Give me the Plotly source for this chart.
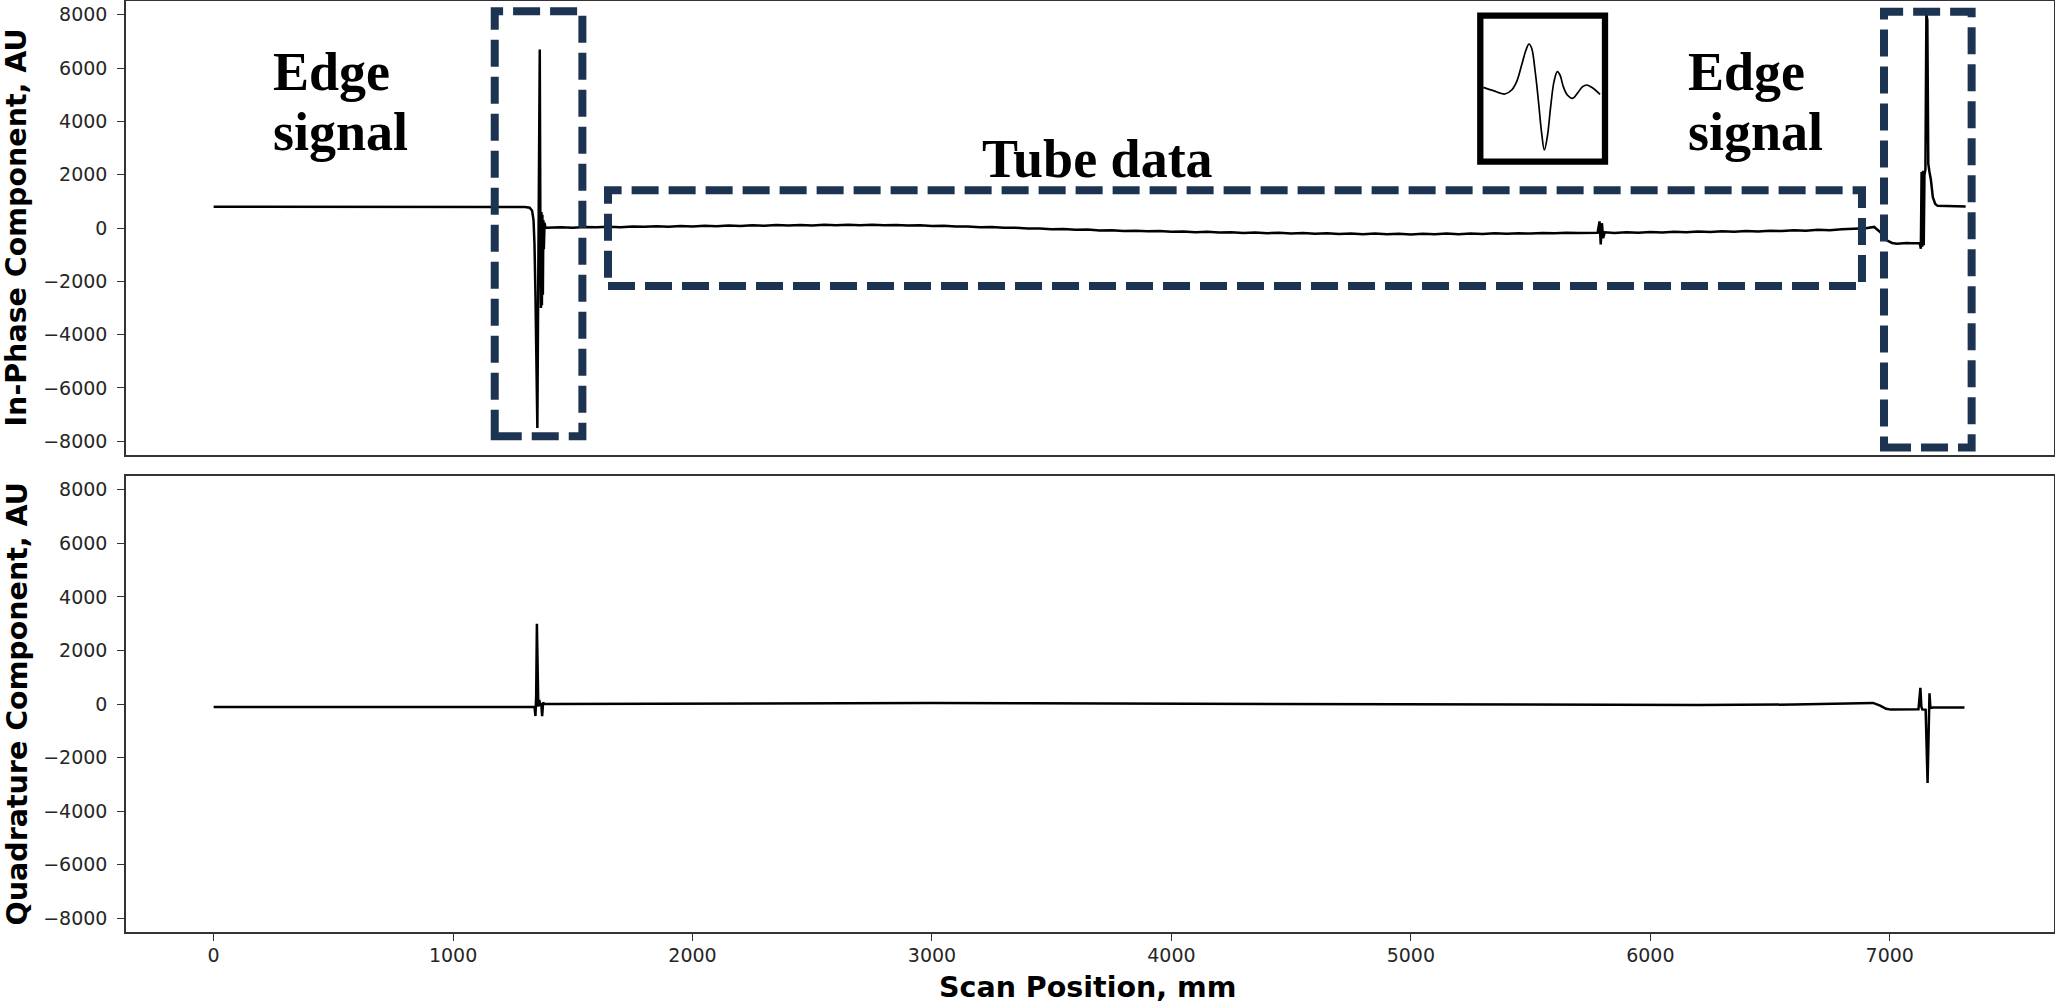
import plotly.graph_objects as go

# ---------------- data ----------------
# In-phase component: scan position (mm) and value (AU)
ip_pos = [0, 300, 600, 900, 1200, 1300, 1320, 1330, 1336, 1340, 1344, 1348, 1352,
          1355, 1358, 1362, 1365, 1367, 1369, 1371, 1373, 1375, 1377, 1379, 1382, 1386, 1390,
          1450, 1500, 1550, 1600, 1650, 1700, 1750, 1800, 1850, 1900, 1950, 2000,
          2050, 2100, 2150, 2200, 2250, 2300, 2350, 2400, 2450, 2500, 2550, 2600,
          2650, 2700, 2750, 2800, 2850, 2900, 2950, 3000, 3050, 3100, 3150, 3200,
          3250, 3300, 3350, 3400, 3450, 3500, 3550, 3600, 3650, 3700, 3750, 3800,
          3850, 3900, 3950, 4000, 4050, 4100, 4150, 4200, 4250, 4300, 4350, 4400,
          4450, 4500, 4550, 4600, 4650, 4700, 4750, 4800, 4850, 4900, 4950, 5000,
          5050, 5100, 5150, 5200, 5250, 5300, 5350, 5400, 5450, 5500, 5550, 5600,
          5650, 5700, 5750, 5780, 5788, 5793, 5798, 5803, 5810, 5850, 5900, 5950,
          6000, 6050, 6100, 6150, 6200, 6250, 6300, 6350, 6400, 6450, 6500, 6550,
          6600, 6650, 6700, 6750, 6800, 6850, 6900, 6935, 6960, 6985, 7010, 7030,
          7050, 7070, 7090, 7110, 7125, 7130, 7133, 7136, 7139, 7142, 7145, 7149,
          7153, 7157, 7161, 7166, 7172, 7180, 7190, 7200, 7250, 7317]
ip_val = [800, 800, 795, 795, 790, 785, 760, 650, 300, -600, -2500, -5000, -7500,
          -3000, 2000, 6700, -1000, -3000, 600, -2900, 500, -2500, 300, -800, 200, 0, 10,
          30, 5, 40, 25, 50, 30, 60, 45, 70, 50, 75, 60,
          85, 65, 95, 75, 100, 85, 110, 90, 115, 95, 120, 100,
          125, 105, 120, 100, 115, 90, 100, 75, 85, 55, 60, 30,
          35, 5, 10, -20, -15, -45, -40, -70, -60, -90, -85, -110,
          -100, -125, -115, -140, -130, -155, -145, -170, -160, -185, -170, -195,
          -180, -205, -190, -215, -200, -225, -205, -230, -210, -235, -215, -240,
          -215, -235, -210, -230, -205, -225, -200, -220, -195, -210, -185, -200,
          -175, -190, -170, -180, 250, -620, 180, -380, -160, -185, -160, -180,
          -150, -170, -140, -160, -130, -150, -120, -140, -110, -130, -100, -115,
          -85, -100, -70, -80, -50, -40, -10, 40, -150, -450, -560, -590,
          -570, -560, -575, -560, -570, -780, 2100, -700, 2150, -650, 2000, 2200,
          8000, 7800, 2400, 2100, 1800, 1150, 900, 830, 810, 810]

# Quadrature component
quad_pos = [0, 400, 800, 1200, 1340, 1344, 1347, 1350, 1353, 1356, 1360, 1364, 1368,
            1372, 1376, 1380, 1400, 1800, 2200, 2600, 3000, 3400, 3800, 4200, 4600,
            5000, 5400, 5800, 6200, 6600, 6800, 6930, 6960, 6985, 7005, 7060, 7120,
            7128, 7132, 7136, 7150, 7158, 7162, 7166, 7170, 7180, 7250, 7312]
quad_val = [-110, -110, -110, -110, -110, -450, 300, 3000, 500, -100, 150, -60, 30,
            -450, 60, 0, 0, 10, 30, 40, 40, 30, 20, 10, 0,
            -20, -30, -40, -40, -20, 10, 40, -60, -180, -210, -200, -200,
            600, -100, -200, -220, -2950, -250, 400, -150, -130, -130, -130]

# Inset wavelet (relative position, relative amplitude)
inset_t = [70, 100, 135, 155, 170, 185, 198, 207, 215, 225, 235, 245, 253, 262, 272,
           282, 292, 300, 310, 322, 338, 352, 368, 380, 395, 420]
inset_amp = [38, 28, 18, 30, 55, 105, 150, 168, 155, 90, 0, -100, -150, -110, -20,
             55, 85, 75, 40, 15, 5, 20, 40, 45, 38, 17]

y_ticks = [-8000, -6000, -4000, -2000, 0, 2000, 4000, 6000, 8000]
x_ticks = [0, 1000, 2000, 3000, 4000, 5000, 6000, 7000]

y_title_top = "In-Phase Component, AU"
y_title_bottom = "Quadrature Component, AU"
x_title = "Scan Position, mm"

# ---------------- figure ----------------
W, H = 2055, 1004
ML, MR, MT, MB = 126, 1, 1, 72
PW, PH = W - ML - MR, H - MT - MB


def px_x(p):
    return (p - ML) / PW


def px_y(p):
    return (H - MB - p) / PH


top_dom = [px_y(455), 1.0]
bot_dom = [0.0, px_y(476)]

fig = go.Figure()
fig.add_trace(go.Scatter(x=ip_pos, y=ip_val, mode="lines", xaxis="x", yaxis="y",
                         line=dict(color="black", width=2.5), showlegend=False))
fig.add_trace(go.Scatter(x=quad_pos, y=quad_val, mode="lines", xaxis="x2", yaxis="y2",
                         line=dict(color="black", width=2.5), showlegend=False))
fig.add_trace(go.Scatter(x=inset_t, y=inset_amp, mode="lines", xaxis="x3", yaxis="y3",
                         line=dict(color="black", width=1.7, shape="spline"),
                         showlegend=False))

tickfont = dict(family="DejaVu Sans", size=19, color="#262626")
axline = dict(showline=True, mirror=True, linecolor="#333333", linewidth=1.5,
              showgrid=False, zeroline=False, automargin=False)
xr = [-366, 7686]
yr = [-8515, 8515]

fig.update_layout(
    width=W, height=H,
    margin=dict(l=ML, r=MR, t=MT, b=MB, autoexpand=False),
    paper_bgcolor="white", plot_bgcolor="white",
    xaxis=dict(domain=[0, 1], anchor="y", range=xr, showticklabels=False,
               ticks="", **axline),
    yaxis=dict(domain=top_dom, anchor="x", range=yr, tickvals=y_ticks,
               ticks="outside", ticklen=7, tickwidth=1.3, tickcolor="#333333",
               tickfont=tickfont, ticklabelstandoff=6, **axline),
    xaxis2=dict(domain=[0, 1], anchor="y2", range=xr, tickvals=x_ticks,
                ticks="outside", ticklen=7, tickwidth=1.3, tickcolor="#333333",
                tickfont=tickfont, ticklabelstandoff=-2, **axline),
    yaxis2=dict(domain=bot_dom, anchor="x2", range=yr, tickvals=y_ticks,
                ticks="outside", ticklen=7, tickwidth=1.3, tickcolor="#333333",
                tickfont=tickfont, ticklabelstandoff=6, **axline),
    xaxis3=dict(domain=[px_x(1483), px_x(1602)], anchor="y3", range=[69, 426],
                visible=False, automargin=False),
    yaxis3=dict(domain=[px_y(158), px_y(19)], anchor="x3", range=[-174, 243],
                visible=False, automargin=False),
)

titlefont = dict(family="DejaVu Sans", size=28.5, color="black", weight="bold")
fig.add_annotation(text=y_title_top, xref="paper", yref="paper", x=0, xshift=16.5 - ML,
                   y=sum(top_dom) / 2, textangle=-90, showarrow=False,
                   xanchor="center", yanchor="middle", font=titlefont)
fig.add_annotation(text=y_title_bottom, xref="paper", yref="paper", x=0, xshift=16.5 - ML,
                   y=sum(bot_dom) / 2, textangle=-90, showarrow=False,
                   xanchor="center", yanchor="middle", font=titlefont)
fig.add_annotation(text=x_title, xref="paper", yref="paper", x=0.4987, y=0,
                   yshift=-(987 - (H - MB)), showarrow=False,
                   xanchor="center", yanchor="middle", font=titlefont)

# region labels (Times-like bold serif)
serif = dict(family="Liberation Serif", size=54, color="black", weight="bold")
for txt, xp, base in [("Edge", 272, 90), ("signal", 272, 150),
                      ("Edge", 1687, 90), ("signal", 1687, 150),
                      ("Tube data", 981, 177.7)]:
    fig.add_annotation(text=txt, xref="paper", yref="paper", x=px_x(xp),
                       y=px_y(base - 0.3375 * 54), showarrow=False,
                       xanchor="left", yanchor="middle", borderpad=0, font=serif)

# dashed highlight boxes (data coordinates of the top panel)
navy = "#1c3352"
for x0, x1, y0, y1 in [(1174, 1540, -7810, 8135),
                       (6976, 7342, -8235, 8115),
                       (1647, 6884, -2175, 1414)]:
    fig.add_shape(type="rect", xref="x", yref="y", x0=x0, x1=x1, y0=y0, y1=y1,
                  line=dict(color=navy, width=8, dash="27px,10px"),
                  fillcolor="rgba(0,0,0,0)")

# inset frame
fig.add_shape(type="rect", xref="paper", yref="paper",
              x0=px_x(1480.3), x1=px_x(1605), y0=px_y(161.7), y1=px_y(15.7),
              line=dict(color="black", width=6.3), fillcolor="rgba(0,0,0,0)")

fig.write_html(
    "out.html",
    config={"displayModeBar": False},
    post_script="document.body.style.margin='0';document.body.style.padding='0';"
                "document.body.style.overflow='hidden';",
)
